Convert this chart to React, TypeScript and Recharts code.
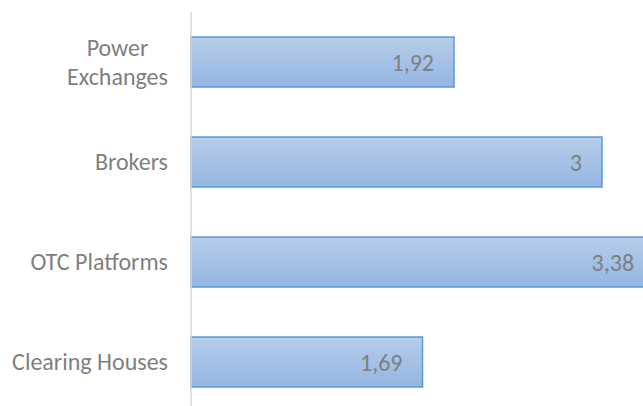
import React from 'react';
import { BarChart, Bar, XAxis, YAxis, LabelList } from 'recharts';

const categories = ['Power Exchanges', 'Brokers', 'OTC Platforms', 'Clearing Houses'];
const values = [1.92, 3, 3.38, 1.69];
const tickLines: Record<string, string[]> = {
  'Power Exchanges': ['Power', 'Exchanges'],
};

const data = categories.map((name, i) => ({ name, value: values[i] }));

const FONT = 'Calibri, Carlito, Lato, sans-serif';
const FS = 24;
const GRAY = '#7f7f7f';
const MULTI_HALF_WIDTH = 50.5;

const Tick = (props: any) => {
  const { x, y, payload } = props;
  const lines = tickLines[payload.value] || [payload.value];
  const lh = 29;
  const startDy = 8 - ((lines.length - 1) * lh) / 2;
  const multi = lines.length > 1;
  const tx = multi ? x - MULTI_HALF_WIDTH : x;
  return (
    <text x={tx} y={y} textAnchor={multi ? 'middle' : 'end'} fill={GRAY} fontFamily={FONT} fontSize={FS}>
      {lines.map((l: string, i: number) => (
        <tspan key={i} x={tx} dy={i === 0 ? startDy : lh}>
          {l}
        </tspan>
      ))}
    </text>
  );
};

const fmt = (v: any) => String(v).replace('.', ',');

export default function App() {
  return (
    <div style={{ position: 'absolute', left: 0, top: 0 }}>
      <BarChart
        width={760}
        height={420}
        data={data}
        layout="vertical"
        margin={{ top: 12, right: 21, bottom: 8, left: 0 }}
        barSize={50}
      >
        <defs>
          <linearGradient id="barGrad" x1="0" y1="0" x2="0" y2="1">
            <stop offset="0%" stopColor="#b7cdea" />
            <stop offset="100%" stopColor="#93b5e1" />
          </linearGradient>
        </defs>
        <XAxis type="number" domain={[0, 4]} hide />
        <YAxis
          type="category"
          dataKey="name"
          width={191}
          axisLine={{ stroke: '#d9d9d9', strokeWidth: 1.5 }}
          tickLine={false}
          tickSize={0}
          tickMargin={23}
          tick={<Tick />}
          interval={0}
        />
        <Bar dataKey="value" fill="url(#barGrad)" stroke="#5b9bd5" strokeWidth={1.5} isAnimationActive={false}>
          <LabelList dataKey="value" position="insideRight" offset={20} fill={GRAY} fontFamily={FONT} fontSize={FS} formatter={fmt} />
        </Bar>
      </BarChart>
    </div>
  );
}
